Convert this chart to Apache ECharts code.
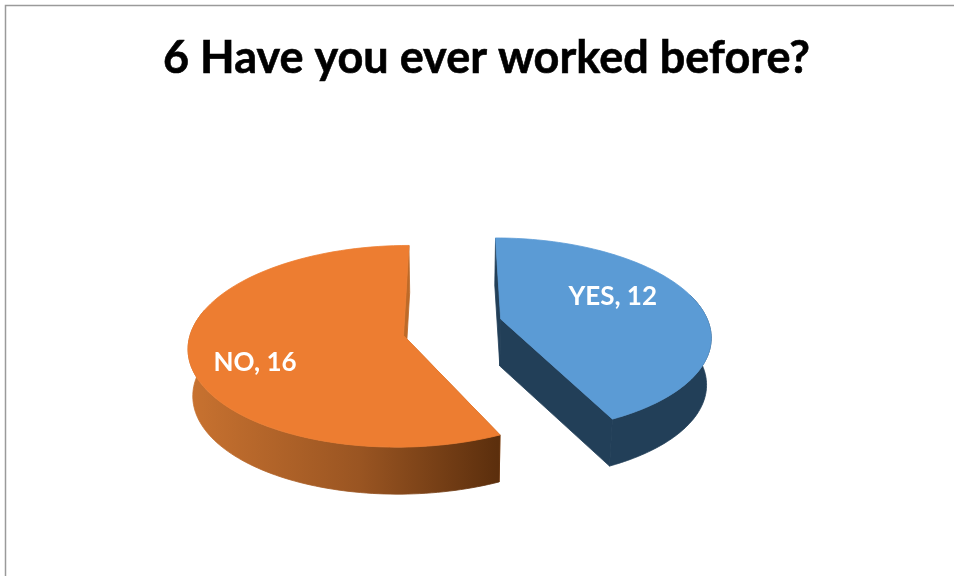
<!DOCTYPE html>
<html>
<head>
<meta charset="utf-8">
<style>html,body{margin:0;padding:0;background:#fff}#chart{width:954px;height:576px}</style>
<script src="https://cdn.jsdelivr.net/npm/echarts@6/dist/echarts.min.js"></script>
</head>
<body>
<div id="chart"></div>
<script>
// Answers to survey question 6
const titleText = '6 Have you ever worked before?';
const categories = ['YES', 'NO'];
const answers = [12, 16];

// Fill colours per slice: top face, cut face, outer wall
const topColors = ['#5B9BD5', '#ED7D31'];
const faceColors = ['#223F58', '#BE6A28'];
const wallColors = [
  '#223F58',
  new echarts.graphic.LinearGradient(190, 0, 497, 0, [
    { offset: 0, color: '#C87230' },
    { offset: 0.55, color: '#9A5522' },
    { offset: 1, color: '#5C2F0D' }
  ], true)
];

// Each exploded slice is a tilted disc sector around its own apex, in pixels
const apexX = [500.7, 403.5];
const apexY = [319, 335.5];
const radiusX = [206.5, 213.5];
const radiusY = [94.5, 99.7];
const tilt = [0.166, 0.107];
const lean = [-6, 6];
const depth = 47;
const vanishX = 452;
const shrink = 0.018;
const labelOffset = [[112, -22], [-148.5, 27]];

// Disc point (angle clockwise from the far side, radius fraction, level 0 = top, 1 = bottom) to screen
function project(i, angle, r, level) {
  const u = r * Math.sin(angle);
  const v = r * Math.cos(angle);
  const w = 1 + tilt[i] * v;
  const x = apexX[i] + (radiusX[i] * u + lean[i] * v) / w;
  const y = apexY[i] - (radiusY[i] * v) / w;
  return [vanishX + (x - vanishX) * (1 - shrink * level), y + depth * level];
}

function arcPoints(i, from, to, level) {
  const pts = [];
  const steps = 90;
  for (let s = 0; s <= steps; s++) {
    pts.push(project(i, from + ((to - from) * s) / steps, 1, level));
  }
  return pts;
}

const total = answers.reduce((a, b) => a + b, 0);
const deg = Math.PI / 180;

function renderSlice(params, api) {
  const i = params.dataIndex;
  let before = 0;
  for (let k = 0; k < i; k++) before += answers[k];
  const from = (before / total) * 2 * Math.PI;
  const to = ((before + api.value(1)) / total) * 2 * Math.PI;

  const apexTop = project(i, 0, 0, 0);
  const apexBottom = project(i, 0, 0, 1);
  const rimTop = arcPoints(i, from, to, 0);
  const rimBottom = arcPoints(i, from, to, 1);
  // The outer wall only shows on the near half of the disc
  const wallFrom = Math.max(from, 75 * deg);
  const wallTo = Math.min(to, 285 * deg);
  const wallTop = arcPoints(i, wallFrom, wallTo, 0);
  const wallBottom = arcPoints(i, wallFrom, wallTo, 1);
  const poly = (points, fill) => ({
    type: 'polygon',
    shape: { points },
    style: { fill, stroke: fill, lineWidth: 0.8 }
  });

  return {
    type: 'group',
    children: [
      poly([rimTop[0], rimBottom[0], apexBottom, apexTop], faceColors[i]),
      poly([apexTop, apexBottom, rimBottom[90], rimTop[90]], faceColors[i]),
      poly(wallTop.concat(wallBottom.slice().reverse()), wallColors[i]),
      poly([apexTop].concat(rimTop), topColors[i]),
      {
        type: 'text',
        x: apexX[i] + labelOffset[i][0],
        y: apexY[i] + labelOffset[i][1],
        style: {
          text: categories[i] + ', ' + answers[i],
          fill: '#fff',
          font: 'bold 26px Lato, sans-serif',
          align: 'center',
          verticalAlign: 'middle'
        }
      }
    ]
  };
}

const chart = echarts.init(document.getElementById('chart'), null, { renderer: 'canvas' });
chart.setOption({
  animation: false,
  backgroundColor: '#fff',
  title: {
    text: titleText,
    left: 481.5,
    top: 31,
    textAlign: 'center',
    textStyle: {
      fontFamily: 'Lato, sans-serif',
      fontWeight: 'bold',
      fontSize: 45,
      color: '#000',
      textBorderColor: '#000',
      textBorderWidth: 0.6
    }
  },
  graphic: [
    {
      type: 'polyline',
      shape: { points: [[5.5, 576], [5.5, 5.5], [954, 5.5]] },
      style: { stroke: '#9A9A9A', lineWidth: 1.5, fill: 'none' },
      silent: true
    }
  ],
  series: [
    {
      type: 'custom',
      coordinateSystem: 'none',
      renderItem: renderSlice,
      data: categories.map((name, i) => ({ name, value: [i, answers[i]] }))
    }
  ]
});
</script>
</body>
</html>
